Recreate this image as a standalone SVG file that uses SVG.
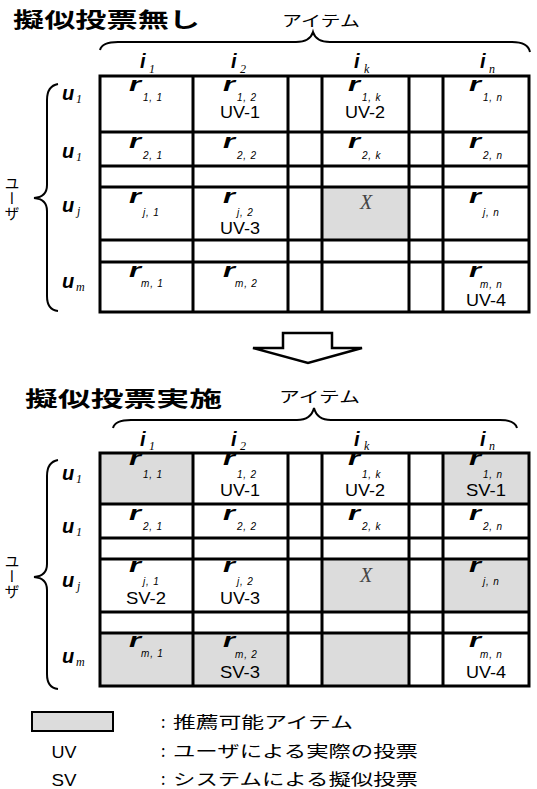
<svg xmlns="http://www.w3.org/2000/svg" width="537" height="789" viewBox="0 0 537 789">
<style>
text{fill:#000}
.t{font:bold 21px "Noto Sans CJK JP","Noto Sans CJK SC",sans-serif}
.it{font:15px "Noto Sans CJK JP",sans-serif}
.lg{font:16px "Noto Sans CJK JP",sans-serif}
.r{font:italic bold 21px "Liberation Sans",sans-serif}
.s{font:italic 10px "Liberation Sans",sans-serif;letter-spacing:0.8px}
.v{font:17px "Liberation Sans",sans-serif;text-anchor:middle}
.u{font:italic bold 20px "Liberation Sans",sans-serif}
.us{font:italic 12px "Liberation Serif",serif}
.x{font:italic 20px "Liberation Serif",serif;fill:#444;text-anchor:middle}
.g{fill:#dcdcdc}
.ln{stroke:#000;stroke-width:3;fill:none;stroke-linecap:square}
.br{stroke:#000;stroke-width:2;fill:none}
.vt{font:15px "Noto Sans CJK JP",sans-serif;writing-mode:vertical-rl}
</style>

<!-- titles -->
<text class="t" x="13" y="27" textLength="187" lengthAdjust="spacingAndGlyphs">擬似投票無し</text>
<text class="t" x="25" y="406" textLength="197" lengthAdjust="spacingAndGlyphs">擬似投票実施</text>

<!-- ===== top matrix ===== -->
<g id="top-matrix">
  <g id="top-labels">
    <text class="it" x="282" y="26" textLength="78" lengthAdjust="spacingAndGlyphs">アイテム</text>
    <path class="br" d="M100,50 Q102,42 118,42 L296,42 Q310,42 313,32 Q316,42 330,42 L512,42 Q528,42 530,52"/>
    <path class="br" d="M58,84 Q47,86 47,100 L47,185 Q47,197 34,198 Q47,199 47,211 L47,296 Q47,310 58,311"/>
    <text class="vt" x="12" y="176">ユーザ</text>
    <text class="u" x="140" y="68">i</text><text class="us" x="149" y="73">1</text>
    <text class="u" x="231" y="68">i</text><text class="us" x="240" y="73">2</text>
    <text class="u" x="354" y="68">i</text><text class="us" x="364" y="73">k</text>
    <text class="u" x="480" y="68">i</text><text class="us" x="489" y="73">n</text>
    <text class="u" x="62" y="100">u</text><text class="us" x="76" y="103">1</text>
    <text class="u" x="62" y="158">u</text><text class="us" x="76" y="161">1</text>
    <text class="u" x="62" y="212">u</text><text class="us" x="77" y="215">j</text>
    <text class="u" x="62" y="288">u</text><text class="us" x="76" y="291">m</text>
  </g>
  <rect class="g" x="322" y="187" width="87" height="53"/>
  <g id="top-cells">
    <text class="r" x="129" y="91" textLength="12" lengthAdjust="spacingAndGlyphs">r</text><text class="s" x="143" y="101">1, 1</text>
    <text class="r" x="223" y="91" textLength="12" lengthAdjust="spacingAndGlyphs">r</text><text class="s" x="237" y="101">1, 2</text>
    <text class="v" x="240" y="118" textLength="40" lengthAdjust="spacingAndGlyphs">UV-1</text>
    <text class="r" x="348" y="91" textLength="12" lengthAdjust="spacingAndGlyphs">r</text><text class="s" x="362" y="101">1, k</text>
    <text class="v" x="365" y="118" textLength="40" lengthAdjust="spacingAndGlyphs">UV-2</text>
    <text class="r" x="469" y="91" textLength="12" lengthAdjust="spacingAndGlyphs">r</text><text class="s" x="483" y="101">1, n</text>

    <text class="r" x="129" y="148" textLength="12" lengthAdjust="spacingAndGlyphs">r</text><text class="s" x="143" y="159">2, 1</text>
    <text class="r" x="223" y="148" textLength="12" lengthAdjust="spacingAndGlyphs">r</text><text class="s" x="237" y="159">2, 2</text>
    <text class="r" x="348" y="148" textLength="12" lengthAdjust="spacingAndGlyphs">r</text><text class="s" x="362" y="159">2, k</text>
    <text class="r" x="469" y="148" textLength="12" lengthAdjust="spacingAndGlyphs">r</text><text class="s" x="483" y="159">2, n</text>

    <text class="r" x="129" y="203" textLength="12" lengthAdjust="spacingAndGlyphs">r</text><text class="s" x="143" y="216">j, 1</text>
    <text class="r" x="223" y="203" textLength="12" lengthAdjust="spacingAndGlyphs">r</text><text class="s" x="237" y="216">j, 2</text>
    <text class="v" x="240" y="234" textLength="40" lengthAdjust="spacingAndGlyphs">UV-3</text>
    <text class="x" x="366" y="209">X</text>
    <text class="r" x="469" y="203" textLength="12" lengthAdjust="spacingAndGlyphs">r</text><text class="s" x="483" y="216">j, n</text>

    <text class="r" x="129" y="277" textLength="12" lengthAdjust="spacingAndGlyphs">r</text><text class="s" x="141" y="287">m, 1</text>
    <text class="r" x="223" y="277" textLength="12" lengthAdjust="spacingAndGlyphs">r</text><text class="s" x="235" y="287">m, 2</text>
    <text class="r" x="469" y="277" textLength="12" lengthAdjust="spacingAndGlyphs">r</text><text class="s" x="480" y="288">m, n</text>
    <text class="v" x="486" y="306" textLength="40" lengthAdjust="spacingAndGlyphs">UV-4</text>
  </g>
  <path class="ln" d="M100,76H529M100,132H529M100,166H529M100,187H529M100,240H529M100,262H529M100,312H529M100,76V312M193,76V312M288,76V312M322,76V312M409,76V312M443,76V312M529,76V312"/>
</g>

<!-- arrow -->
<g id="arrow">
  <polygon points="283,333 332,333 332,348 362,348 308,363 253,348 283,348" fill="#fff" stroke="#000" stroke-width="2.5" stroke-linejoin="miter"/>
</g>

<!-- ===== bottom matrix ===== -->
<g id="bottom-matrix">
  <g id="bottom-labels">
    <text class="it" x="279" y="402" textLength="81" lengthAdjust="spacingAndGlyphs">アイテム</text>
    <path class="br" d="M113,428 Q115,420 131,420 L297,420 Q311,420 314,408 Q317,420 331,420 L500,420 Q515,420 517,428"/>
    <path class="br" d="M58,460 Q47,462 47,476 L47,564 Q47,576 34,577 Q47,578 47,590 L47,674 Q47,688 58,689"/>
    <text class="vt" x="12" y="554">ユーザ</text>
    <text class="u" x="140" y="446">i</text><text class="us" x="149" y="450">1</text>
    <text class="u" x="231" y="446">i</text><text class="us" x="240" y="450">2</text>
    <text class="u" x="354" y="446">i</text><text class="us" x="364" y="450">k</text>
    <text class="u" x="480" y="446">i</text><text class="us" x="489" y="450">n</text>
    <text class="u" x="62" y="480">u</text><text class="us" x="76" y="483">1</text>
    <text class="u" x="62" y="533">u</text><text class="us" x="76" y="536">1</text>
    <text class="u" x="62" y="587">u</text><text class="us" x="77" y="590">j</text>
    <text class="u" x="62" y="663">u</text><text class="us" x="76" y="666">m</text>
  </g>
  <g id="bottom-shade">
    <rect class="g" x="100" y="453" width="93" height="51"/>
    <rect class="g" x="443" y="453" width="86" height="51"/>
    <rect class="g" x="322" y="559" width="87" height="53"/>
    <rect class="g" x="443" y="559" width="86" height="53"/>
    <rect class="g" x="100" y="633" width="188" height="53"/>
    <rect class="g" x="322" y="633" width="87" height="53"/>
  </g>
  <g id="bottom-cells">
    <text class="r" x="129" y="465" textLength="12" lengthAdjust="spacingAndGlyphs">r</text><text class="s" x="143" y="478">1, 1</text>
    <text class="r" x="223" y="465" textLength="12" lengthAdjust="spacingAndGlyphs">r</text><text class="s" x="237" y="478">1, 2</text>
    <text class="v" x="240" y="496" textLength="40" lengthAdjust="spacingAndGlyphs">UV-1</text>
    <text class="r" x="348" y="465" textLength="12" lengthAdjust="spacingAndGlyphs">r</text><text class="s" x="362" y="478">1, k</text>
    <text class="v" x="365" y="496" textLength="40" lengthAdjust="spacingAndGlyphs">UV-2</text>
    <text class="r" x="469" y="465" textLength="12" lengthAdjust="spacingAndGlyphs">r</text><text class="s" x="483" y="478">1, n</text>
    <text class="v" x="486" y="496" textLength="40" lengthAdjust="spacingAndGlyphs">SV-1</text>

    <text class="r" x="129" y="520" textLength="12" lengthAdjust="spacingAndGlyphs">r</text><text class="s" x="143" y="530">2, 1</text>
    <text class="r" x="223" y="520" textLength="12" lengthAdjust="spacingAndGlyphs">r</text><text class="s" x="237" y="530">2, 2</text>
    <text class="r" x="348" y="520" textLength="12" lengthAdjust="spacingAndGlyphs">r</text><text class="s" x="362" y="530">2, k</text>
    <text class="r" x="469" y="520" textLength="12" lengthAdjust="spacingAndGlyphs">r</text><text class="s" x="483" y="530">2, n</text>

    <text class="r" x="129" y="572" textLength="12" lengthAdjust="spacingAndGlyphs">r</text><text class="s" x="143" y="585">j, 1</text>
    <text class="v" x="146" y="604" textLength="40" lengthAdjust="spacingAndGlyphs">SV-2</text>
    <text class="r" x="223" y="572" textLength="12" lengthAdjust="spacingAndGlyphs">r</text><text class="s" x="237" y="585">j, 2</text>
    <text class="v" x="240" y="604" textLength="40" lengthAdjust="spacingAndGlyphs">UV-3</text>
    <text class="x" x="366" y="582">X</text>
    <text class="r" x="469" y="572" textLength="12" lengthAdjust="spacingAndGlyphs">r</text><text class="s" x="483" y="585">j, n</text>

    <text class="r" x="129" y="647" textLength="12" lengthAdjust="spacingAndGlyphs">r</text><text class="s" x="141" y="657">m, 1</text>
    <text class="r" x="223" y="647" textLength="12" lengthAdjust="spacingAndGlyphs">r</text><text class="s" x="235" y="658">m, 2</text>
    <text class="v" x="240" y="678" textLength="40" lengthAdjust="spacingAndGlyphs">SV-3</text>
    <text class="r" x="469" y="647" textLength="12" lengthAdjust="spacingAndGlyphs">r</text><text class="s" x="480" y="658">m, n</text>
    <text class="v" x="486" y="678" textLength="40" lengthAdjust="spacingAndGlyphs">UV-4</text>
  </g>
  <path class="ln" d="M100,453H529M100,504H529M100,538H529M100,559H529M100,612H529M100,633H529M100,686H529M100,453V686M193,453V686M288,453V686M322,453V686M409,453V686M443,453V686M529,453V686"/>
</g>

<!-- legend -->
<g id="legend">
  <rect x="32" y="712" width="81" height="19" fill="#dcdcdc" stroke="#000" stroke-width="2"/>
  <text class="lg" x="161" y="728">:</text>
  <text class="lg" x="173" y="728" textLength="180" lengthAdjust="spacingAndGlyphs">推薦可能アイテム</text>
  <text class="v" x="64" y="758" textLength="25" lengthAdjust="spacingAndGlyphs">UV</text>
  <text class="lg" x="161" y="757">:</text>
  <text class="lg" x="173" y="757" textLength="245" lengthAdjust="spacingAndGlyphs">ユーザによる実際の投票</text>
  <text class="v" x="64" y="786" textLength="25" lengthAdjust="spacingAndGlyphs">SV</text>
  <text class="lg" x="161" y="785">:</text>
  <text class="lg" x="173" y="785" textLength="245" lengthAdjust="spacingAndGlyphs">システムによる擬似投票</text>
</g>
</svg>
